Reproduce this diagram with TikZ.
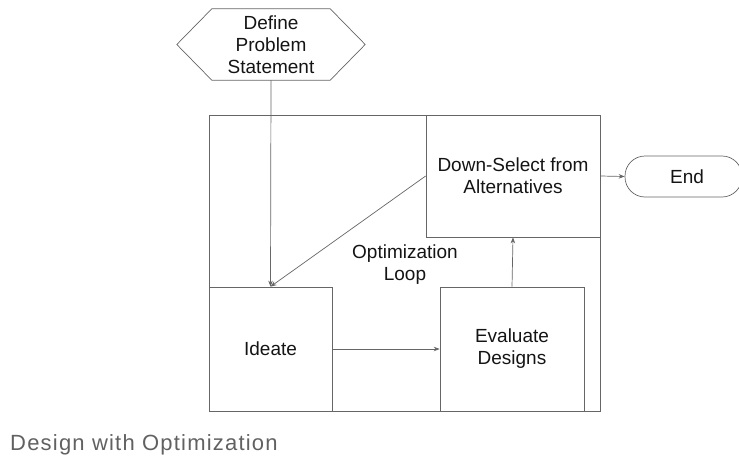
\documentclass[tikz,border=0pt]{standalone}
\usepackage{fontspec}
\setmainfont{Liberation Sans}
\newfontfamily\capfont[LetterSpace=5.5]{Liberation Sans}
\usetikzlibrary{arrows.meta}
\begin{document}
\begin{tikzpicture}[x=1pt,y=-1pt,
  lbl/.style={inner sep=0pt, align=center, font=\fontsize{19}{22}\selectfont, text=black!92},
  box/.style={lbl, draw=black!60, line width=0.7pt},
  edge/.style={draw=black!60, line width=0.7pt},
  arr/.style={edge, -{Stealth[length=6pt,width=4.5pt]}},
  captext/.style={inner sep=0pt, font=\capfont\fontsize{22}{26}\selectfont, text=black!62}]
\useasboundingbox (0,0) rectangle (739,458);
% outer loop frame
\node[box, minimum width=391pt, minimum height=296pt] (frame) at (404.5,263) {};
% hexagon start
\node[lbl, minimum width=188pt, minimum height=71pt] (def) at (271,44.5) {Define\\Problem\\Statement};
\draw[edge] (def.west) -- ([xshift=35pt]def.north west) -- ([xshift=-35pt]def.north east)
  -- (def.east) -- ([xshift=-35pt]def.south east) -- ([xshift=35pt]def.south west) -- cycle;
% boxes
\node[box, minimum width=174pt, minimum height=122pt] (ds) at (513,176) {Down-Select from\\Alternatives};
\node[box, minimum width=123pt, minimum height=124pt] (ideate) at (270.5,349) {Ideate};
\node[box, minimum width=144pt, minimum height=124pt] (eval) at (512,349) {Evaluate\\Designs};
\node[box, rounded corners=20pt, minimum width=117pt, minimum height=41pt] (end) at (683.5,176.5) {\hspace*{7pt}End};
\node[lbl] (loop) at (405,265) {Optimization\\Loop};
% connectors
\draw[arr] (def.south) -- (ideate.north);
\draw[arr] (ds.west) -- (ideate.north);
\draw[arr] (ideate.east) -- (eval.west);
\draw[arr] (eval.north) -- (ds.south);
\draw[arr] (ds.east) -- (end.west);
% caption
\node[captext, anchor=base west] (cap) at (10,450) {Design with Optimization};
\end{tikzpicture}
\end{document}
